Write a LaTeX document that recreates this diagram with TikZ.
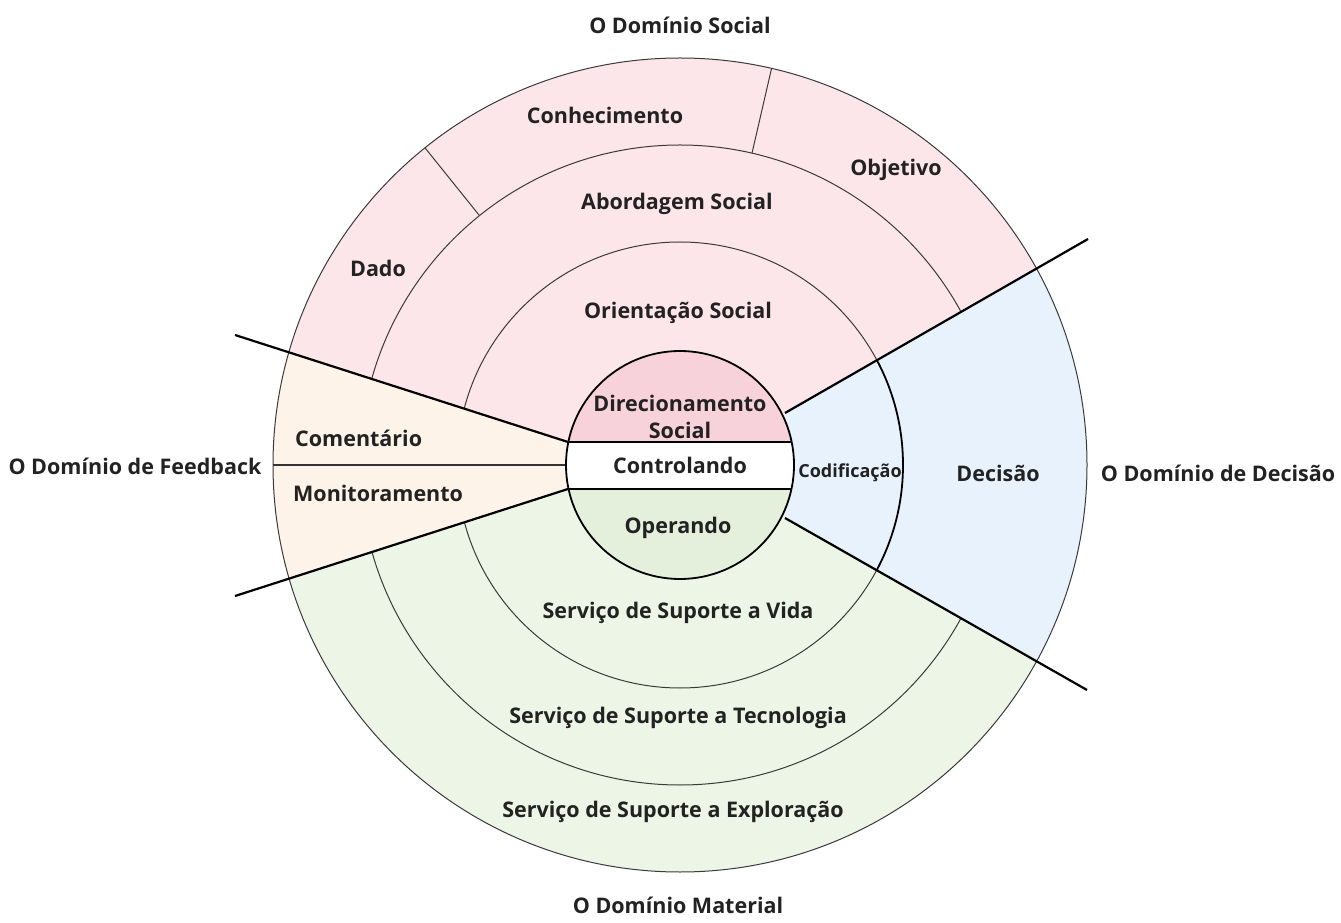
\documentclass[tikz,border=0pt]{standalone}
\usepackage{fontspec}
\usetikzlibrary{calc}
\setmainfont{Open Sans}
\definecolor{socialpink}{HTML}{FCE6EA}
\definecolor{innerpink}{HTML}{F8D2DA}
\definecolor{fbpeach}{HTML}{FDF3E8}
\definecolor{decblue}{HTML}{E8F2FC}
\definecolor{matgreen}{HTML}{ECF5E6}
\definecolor{innergreen}{HTML}{E5F0DC}
\definecolor{txt}{HTML}{222222}
\definecolor{thinln}{HTML}{3A3A3A}
\begin{document}
\begin{tikzpicture}[x=1pt,y=1pt,
  lbl/.style={inner sep=0pt,text=txt,font=\fontsize{21.5}{25}\selectfont\bfseries},
  small/.style={inner sep=0pt,text=txt,font=\fontsize{18}{21}\selectfont\bfseries},
  thinarc/.style={draw=thinln,line width=1pt},
  thickln/.style={draw=black,line width=2.2pt},
  midln/.style={draw=black,line width=1.8pt}]
\useasboundingbox (0,0) rectangle (1341,922);
\coordinate (C) at (680,457);
% sector fills
\begin{scope}
  \clip (C) circle (407);
  \fill[socialpink] (C) circle (407);
  \fill[matgreen] (568,433) -- (150,299) -- (150,0) -- (1250,0) -- (1250,139) -- (785,404) -- cycle;
  \draw[thinarc] (C) circle (223);
  \draw[thinarc] (C) circle (320);
  \draw[thinarc] ($(C)+(128.8:320)$) -- ($(C)+(128.8:407)$);
  \draw[thinarc] ($(C)+(77:320)$) -- ($(C)+(77:407)$);
  \fill[fbpeach] (568,480) -- (150,614) -- (150,299) -- (568,433) -- cycle;
  \fill[decblue] (785,509) -- (1250,776) -- (1250,139) -- (785,404) -- cycle;
\end{scope}
% Codificacao boundary in decision sector
\begin{scope}
  \clip (785,509) -- (1250,776) -- (1250,139) -- (785,404) -- cycle;
  \draw[midln] (C) circle (223);
\end{scope}
% feedback divider
\draw[midln,draw=black!80] ($(C)+(180:407)$) -- ($(C)+(180:114)$);
% outer circle
\draw[thinarc] (C) circle (407);
% dividing lines
\coordinate (ul0) at (568,480); \coordinate (ul1) at (235,587);
\coordinate (ll0) at (568,433); \coordinate (ll1) at (235,326);
\coordinate (ur0) at (785,509); \coordinate (ur1) at (1088,683);
\coordinate (lr0) at (785,404); \coordinate (lr1) at (1087,232);
\draw[thickln] (ul0) -- (ul1);
\draw[thickln] (ll0) -- (ll1);
\draw[thickln] (ur0) -- (ur1);
\draw[thickln] (lr0) -- (lr1);
% inner circle
\begin{scope}
  \clip (C) circle (114);
  \fill[innerpink] (560,480) rectangle (800,580);
  \fill[white] (560,433) rectangle (800,480);
  \fill[innergreen] (560,330) rectangle (800,433);
\end{scope}
\draw[midln] (568.3,480) -- (791.7,480);
\draw[midln] (568.3,433) -- (791.7,433);
\draw[midln] (C) circle (114);
% labels
\node[lbl] (tSoc) at (680,897) {O Domínio Social};
\node[lbl] (tCon) at (605,807) {Conhecimento};
\node[lbl] (tObj) at (896,752) {Objetivo};
\node[lbl] (tAbo) at (677,718) {Abordagem Social};
\node[lbl] (tDad) at (378,654) {Dado};
\node[lbl] (tOri) at (678,609) {Orientação Social};
\node[lbl,align=center,font=\fontsize{21.5}{27}\selectfont\bfseries] (tDir) at (680,505) {Direcionamento\\Social};
\node[lbl,anchor=west] (tCom) at (295,484) {Comentário};
\node[lbl] (tFb) at (135,456) {O Domínio de Feedback};
\node[lbl] (tCtl) at (680,457) {Controlando};
\node[small] (tCod) at (850,449) {Codificação};
\node[lbl] (tDec) at (998,449) {Decisão};
\node[lbl] (tDD) at (1218,449) {O Domínio de Decisão};
\node[lbl,anchor=west] (tMon) at (293,429) {Monitoramento};
\node[lbl] (tOpe) at (678,394) {Operando};
\node[lbl] (tVid) at (678,309) {Serviço de Suporte a Vida};
\node[lbl] (tTec) at (678,204) {Serviço de Suporte a Tecnologia};
\node[lbl] (tExp) at (673,110) {Serviço de Suporte a Exploração};
\node[lbl] (tMat) at (678,17) {O Domínio Material};
\end{tikzpicture}
\end{document}
